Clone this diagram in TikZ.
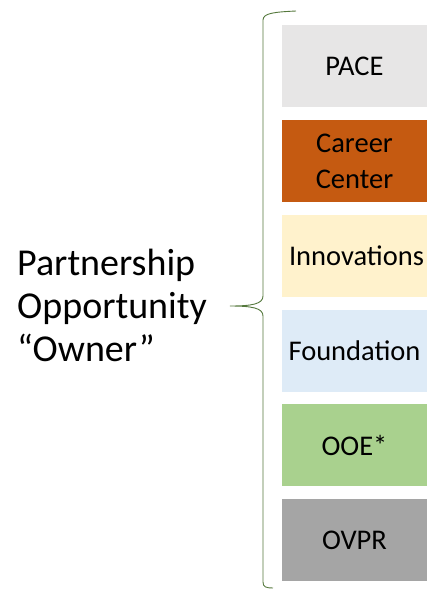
\documentclass[tikz,border=0pt]{standalone}
\usepackage{fontspec}
\setmainfont{Carlito}
\definecolor{pacegray}{RGB}{231, 230, 230}
\definecolor{careerorange}{RGB}{197, 90, 17}
\definecolor{innovyellow}{RGB}{255, 242, 204}
\definecolor{foundblue}{RGB}{222, 235, 247}
\definecolor{ooegreen}{RGB}{169, 209, 142}
\definecolor{ovprgray}{RGB}{165, 165, 165}
\definecolor{bracegreen}{RGB}{84, 120, 60}
\usetikzlibrary{positioning, calc}

\begin{document}
\begin{tikzpicture}[
  x=1pt, y=-1pt,
  ownbox/.style={minimum width=145pt, minimum height=82pt, align=center, inner sep=0pt,
    font=\fontsize{28.5}{36}\selectfont},
  bracepath/.style={draw=bracegreen, line width=0.9pt}
]
  \useasboundingbox (0, 0) rectangle (429, 598);

  % Owner boxes
  \node[ownbox, fill=pacegray] (pace) at (354.5, 66) {\raisebox{-4pt}{PACE}};
  \node[ownbox, fill=careerorange] (career) at (354.5, 161) {Career\\Center};
  \node[ownbox, fill=innovyellow] (innov) at (354.5, 256) {\hspace*{4pt}Innovations};
  \node[ownbox, fill=foundblue] (found) at (354.5, 351) {Foundation};
  \node[ownbox, fill=ooegreen] (ooe) at (354.5, 445) {OOE*};
  \node[ownbox, fill=ovprgray] (ovpr) at (354.5, 540) {OVPR};

  % Label
  \node[anchor=west, align=left, inner sep=0pt, font=\fontsize{38}{43}\selectfont] (owner) at (17, 305)
    {Partnership\\Opportunity\\“Owner”};

  % Brace
  \coordinate (tip) at (230, 306);
  \coordinate (top) at (296, 11);
  \coordinate (bot) at (273, 588);
  \draw[bracepath] (top) .. controls (275, 12) and (263, 13) .. (263, 20)
    -- (263, 296) .. controls (263, 304) and (252, 306) .. (tip)
    .. controls (252, 306) and (263, 308) .. (263, 316)
    -- (263, 582) .. controls (263, 587) and (266, 588) .. (bot);
\end{tikzpicture}
\end{document}
